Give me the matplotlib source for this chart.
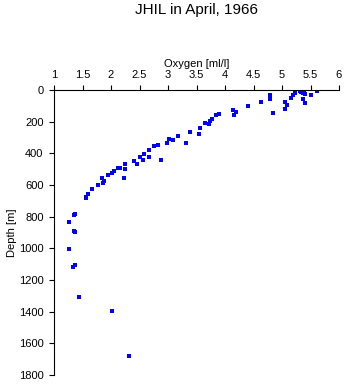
import matplotlib.pyplot as plt

# ---------------- DATA ----------------

oxygen = [
    1.56, 1.56, 1.60, 1.67, 1.78, 1.86, 1.87, 1.85, 1.95, 2.02, 2.05,
    2.13, 2.15, 2.23, 2.25, 2.25, 2.41, 2.46, 2.50, 2.56, 2.58, 2.67,
    2.67, 2.76, 2.83, 2.88, 2.99, 3.01, 3.08, 3.17, 3.31, 3.39, 3.54,
    3.56, 3.65, 3.72, 3.74, 3.78, 3.84, 3.90, 4.14, 4.16, 4.20, 4.41,
    4.64, 4.79, 4.79, 4.79, 4.84, 5.06, 5.06, 5.08, 5.15, 5.19, 5.22,
    5.31, 5.33, 5.35, 5.37, 5.39, 5.41, 5.37, 5.40, 5.51, 5.62,
    1.35, 1.37, 1.26, 1.35, 1.37, 1.26, 1.33, 1.37, 1.44, 2.02, 2.32,
]
depth = [
    684, 674, 655, 627, 602, 585, 577, 554, 539, 522, 514,
    495, 493, 556, 497, 469, 446, 469, 425, 444, 404, 421,
    379, 356, 347, 442, 335, 312, 318, 293, 337, 267, 280,
    238, 211, 215, 196, 181, 160, 150, 128, 160, 139, 103,
    78, 32, 42, 55, 145, 120, 76, 97, 52, 33, 21,
    6, 13, 6, 17, 11, 23, 57, 84, 33, 4,
    792, 785, 836, 893, 899, 1007, 1118, 1105, 1310, 1398, 1682,
]

x_ticks = [1, 1.5, 2, 2.5, 3, 3.5, 4, 4.5, 5, 5.5, 6]
x_labels = ["1", "1.5", "2", "2.5", "3", "3.5", "4", "4.5", "5", "5.5", "6"]
y_ticks = [0, 200, 400, 600, 800, 1000, 1200, 1400, 1600, 1800]

# ---------------- FIGURE ----------------

plt.rcParams['font.family'] = ['Liberation Sans', 'DejaVu Sans']

fig = plt.figure(figsize=(3.45, 3.84), dpi=100)
ax = fig.add_axes([54 / 345, 1 - 375 / 384, 285 / 345, 285 / 384])

ax.plot(oxygen, depth, linestyle='none', marker='s',
        markersize=2.5, color='#0000ff', markeredgewidth=0)

ax.set_xlim(1, 6)
ax.set_ylim(1800, 0)

ax.xaxis.set_ticks_position('top')
ax.xaxis.set_label_position('top')
ax.set_xticks(x_ticks)
ax.set_xticklabels(x_labels)
ax.set_yticks(y_ticks)

for side in ['right', 'bottom']:
    ax.spines[side].set_visible(False)
for side in ['top', 'left']:
    ax.spines[side].set_linewidth(0.8)

ax.tick_params(axis='both', labelsize=8, length=3.5, width=0.8,
               pad=4, direction='out')

ax.set_xlabel("Oxygen [ml/l]", fontsize=8, labelpad=2)
ax.set_ylabel("Depth [m]", fontsize=8, labelpad=1)

fig.text(196.5 / 345, 1 - 10 / 384, "JHIL in April, 1966",
         ha='center', va='center', fontsize=11)

fig.savefig("out.png", dpi=100)
